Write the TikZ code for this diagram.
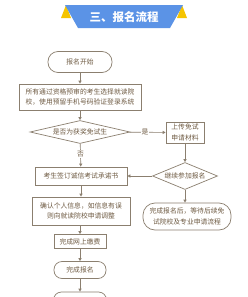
\documentclass[tikz,border=0pt]{standalone}
\usepackage{fontspec}
\newfontfamily\cjk{Noto Sans CJK SC}
\usetikzlibrary{shapes.geometric,arrows.meta}
\definecolor{linec}{HTML}{8B7F6F}
\definecolor{textc}{HTML}{6E5A42}
\definecolor{bannerblue}{HTML}{5B93E6}
\definecolor{banneryellow}{HTML}{F5C400}
\begin{document}
\begin{tikzpicture}[x=1pt,y=-1pt,
  every node/.style={font=\cjk\fontsize{6.8}{10.5}\selectfont, text=textc, align=center, inner sep=0pt},
  stepbox/.style={draw=linec, line width=0.7pt, fill=white, rectangle},
  roundbox/.style={draw=linec, line width=0.7pt, fill=white, rectangle, rounded corners=8pt},
  decision/.style={draw=linec, line width=0.7pt, fill=white, diamond, inner sep=0pt},
  flow/.style={draw=linec, line width=0.7pt, -{Triangle[length=3pt,width=3pt]}},
  lbl/.style={fill=white, inner sep=1pt}
]
\clip (0,0) rectangle (248,297);
\fill[white] (0,0) rectangle (248,297);
% banner
\fill[banneryellow] (61,18) -- (66,5) -- (71,18) -- cycle;
\fill[banneryellow] (187,18) -- (182,5) -- (177,18) -- cycle;
\fill[bannerblue] (65,5) -- (183,5) -- (170,28) -- (78,28) -- cycle;
\node[font=\cjk\bfseries\fontsize{11.5}{12}\selectfont, text=white] (title) at (124,17) {三、报名流程};

% nodes
\node[roundbox, minimum width=64pt, minimum height=21pt, rounded corners=10pt] (start) at (80,62) {报名开始};
\node[stepbox, minimum width=122pt, minimum height=26pt] (login) at (80,97) {所有通过资格预审的考生选择就读院\\校，使用预留手机号码验证登录系统};
\node[decision, minimum width=100pt, minimum height=23pt, aspect=4] (d1) at (80,132) {是否为获奖免试生};
\node[stepbox, minimum width=38pt, minimum height=21pt] (upload) at (185,132.5) {上传免试\\申请材料};
\node[decision, minimum width=65pt, minimum height=27pt, aspect=3] (d2) at (185,176) {继续参加报名};
\node[roundbox, minimum width=88pt, minimum height=27pt, rounded corners=12pt] (wait) at (187,216.5) {完成报名后，等待后续免\\试院校及专业申请流程};
\node[stepbox, minimum width=92pt, minimum height=18pt] (sign) at (81,176) {考生签订诚信考试承诺书};
\node[stepbox, minimum width=98pt, minimum height=28pt] (confirm) at (81,211) {确认个人信息，如信息有误\\则向就读院校申请调整};
\node[stepbox, minimum width=52pt, minimum height=14pt] (pay) at (80,241.5) {完成网上缴费};
\node[roundbox, minimum width=52pt, minimum height=17pt] (done) at (80,270) {完成报名};
\node[roundbox, minimum width=53pt, minimum height=18pt, text depth=0pt] (last) at (80,301) {\raisebox{1pt}{完成院校专业}};

% connectors
\draw[flow] (start) -- (login);
\draw[flow] (login) -- (d1);
\draw[flow] (d1) -- node[lbl, pos=0.43] {是} (upload);
\draw[flow] (d1) -- node[lbl, pos=0.45] {否} (sign);
\draw[flow] (upload) -- (d2);
\draw[flow] (d2) -- (sign);
\draw[flow] (d2) -- (wait.north -| d2);
\draw[flow] (sign) -- (confirm.north -| sign);
\draw[flow] (confirm.south -| pay) -- (pay);
\draw[flow] (pay) -- (done);
\draw[flow] (done) -- (last);
\end{tikzpicture}
\end{document}
